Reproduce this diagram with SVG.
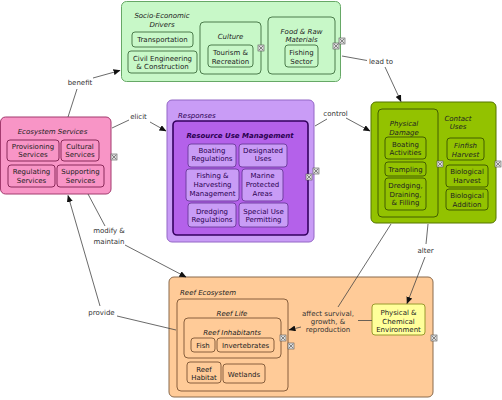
<svg xmlns="http://www.w3.org/2000/svg" xmlns:xlink="http://www.w3.org/1999/xlink" width="502" height="400" viewBox="0 0 502 400">
<style>
text{font-family:"DejaVu Sans",Verdana,sans-serif;font-size:7px;text-anchor:middle;fill:#222}
.it{font-style:italic}
.st{text-anchor:start}
.lk{fill:#333}
.ln{fill:none;stroke:#444;stroke-width:0.8}
.se{fill:#C8F8C8;stroke:#66A866;stroke-width:1}
.sei{fill:#C8F8C8;stroke:#3E6E3E;stroke-width:0.9}
.es{fill:#F895C6;stroke:#A33A6E;stroke-width:1}
.esi{fill:#F895C6;stroke:#7E1E4E;stroke-width:0.9}
.rs{fill:#C99CF6;stroke:#9366C6;stroke-width:1}
.rum{fill:#B461EA;stroke:#33005F;stroke-width:1.6}
.rsi{fill:#C99CF6;stroke:#6A3A9A;stroke-width:0.9}
.rt{fill:#2A0050}
.cu{fill:#93C200;stroke:#557500;stroke-width:1}
.cui{fill:#93C200;stroke:#3A5400;stroke-width:0.9}
.re{fill:#FFCB98;stroke:#8A6A4C;stroke-width:1}
.rei{fill:#FFCB98;stroke:#7A5433;stroke-width:0.9}
.pc{fill:#FFFF9A;stroke:#9A9A2E;stroke-width:1}
</style>
<defs>
<marker id="ah" markerWidth="7" markerHeight="6" refX="6.5" refY="3" orient="auto" markerUnits="userSpaceOnUse">
<path d="M0,0 L7,3 L0,6 Z" fill="#111"/>
</marker>
<g id="ic">
<rect x="-3" y="-3" width="6" height="6" fill="#DDD" stroke="#555" stroke-width="0.6"/>
<path d="M-2,-2 L2,2 M2,-2 L-2,2" stroke="#444" stroke-width="0.6"/>
</g>
</defs>

<g id="socio-economic-drivers">
<rect class="se" x="121.5" y="1.5" width="219" height="80" rx="5"/>
<text class="it" x="162" y="17.5">Socio-Economic</text>
<text class="it" x="162" y="26.5">Drivers</text>
<g id="transportation"><rect class="sei" x="132" y="32" width="61" height="15" rx="3"/><text x="162.5" y="42">Transportation</text></g>
<g id="civil-engineering"><rect class="sei" x="128" y="51" width="69" height="22" rx="3"/><text x="162.5" y="60.5">Civil Engineering</text><text x="162.5" y="69">&amp; Construction</text></g>
<g id="culture"><rect class="sei" x="200" y="22" width="61" height="52" rx="4"/><text class="it" x="230.5" y="38.5">Culture</text>
<g id="tourism"><rect class="sei" x="208" y="45" width="45" height="22" rx="3"/><text x="230.5" y="54.5">Tourism &amp;</text><text x="230.5" y="63.5">Recreation</text></g>
<use xlink:href="#ic" x="261" y="48"/></g>
<g id="food-raw-materials"><rect class="sei" x="268" y="17" width="67" height="57" rx="4"/><text class="it" x="301.5" y="33.5">Food &amp; Raw</text><text class="it" x="301.5" y="42">Materials</text>
<g id="fishing-sector"><rect class="sei" x="285" y="45" width="33" height="22" rx="3"/><text x="301.5" y="54.5">Fishing</text><text x="301.5" y="63.5">Sector</text></g>
<use xlink:href="#ic" x="336" y="46"/></g>
<use xlink:href="#ic" x="342" y="41"/>
</g>

<g id="ecosystem-services">
<rect class="es" x="0.5" y="117" width="110.5" height="77" rx="5"/>
<text class="it" x="52.5" y="133.5">Ecosystem Services</text>
<g id="provisioning"><rect class="esi" x="7" y="140" width="52" height="21" rx="3"/><text x="33" y="148.5">Provisioning</text><text x="33" y="157">Services</text></g>
<g id="cultural"><rect class="esi" x="61" y="140" width="38" height="21" rx="3"/><text x="80" y="148.5">Cultural</text><text x="80" y="157">Services</text></g>
<g id="regulating"><rect class="esi" x="8" y="165" width="47" height="22" rx="3"/><text x="31.5" y="174">Regulating</text><text x="31.5" y="182.5">Services</text></g>
<g id="supporting"><rect class="esi" x="57" y="165" width="47" height="22" rx="3"/><text x="80.5" y="174">Supporting</text><text x="80.5" y="182.5">Services</text></g>
<use xlink:href="#ic" x="114" y="157"/>
</g>

<g id="responses">
<rect class="rs" x="167" y="100" width="147" height="142" rx="5"/>
<text class="it st rt" x="178" y="117.5">Responses</text>
<g id="resource-use-management">
<rect class="rum" x="173" y="121" width="135" height="114" rx="4"/>
<text class="it rt" x="240" y="137.5" font-weight="bold">Resource Use Management</text>
<g id="boating-regulations"><rect class="rsi" x="188" y="144" width="48" height="23" rx="3"/><text class="rt" x="212" y="152.5">Boating</text><text class="rt" x="212" y="161">Regulations</text></g>
<g id="designated-uses"><rect class="rsi" x="239" y="144" width="48" height="23" rx="3"/><text class="rt" x="263" y="152.5">Designated</text><text class="rt" x="263" y="161">Uses</text></g>
<g id="fishing-harvesting"><rect class="rsi" x="186" y="169" width="53" height="32" rx="3"/><text class="rt" x="212.5" y="178">Fishing &amp;</text><text class="rt" x="212.5" y="187">Harvesting</text><text class="rt" x="212.5" y="196">Management</text></g>
<g id="marine-protected-areas"><rect class="rsi" x="242" y="169" width="41" height="32" rx="3"/><text class="rt" x="262.5" y="178">Marine</text><text class="rt" x="262.5" y="187">Protected</text><text class="rt" x="262.5" y="196">Areas</text></g>
<g id="dredging-regulations"><rect class="rsi" x="188" y="203" width="48" height="24" rx="3"/><text class="rt" x="212" y="213.5">Dredging</text><text class="rt" x="212" y="222">Regulations</text></g>
<g id="special-use"><rect class="rsi" x="239" y="203" width="49" height="24" rx="3"/><text class="rt" x="263.5" y="213.5">Special Use</text><text class="rt" x="263.5" y="222">Permitting</text></g>
<use xlink:href="#ic" x="309" y="177"/>
</g>
<use xlink:href="#ic" x="316" y="171"/>
</g>

<g id="contact-uses">
<rect class="cu" x="371" y="102" width="125" height="121" rx="5"/>
<text class="it" x="458" y="120.5">Contact</text>
<text class="it" x="458" y="129">Uses</text>
<g id="physical-damage"><rect class="cui" x="378" y="109" width="60" height="108" rx="4"/>
<text class="it" x="404" y="126">Physical</text><text class="it" x="404" y="134.5">Damage</text>
<g id="boating-activities"><rect class="cui" x="385" y="137" width="41" height="22" rx="3"/><text x="405.5" y="146.5">Boating</text><text x="405.5" y="155">Activities</text></g>
<g id="trampling"><rect class="cui" x="385" y="162" width="41" height="14" rx="3"/><text x="405.5" y="171.5">Trampling</text></g>
<g id="dredging"><rect class="cui" x="385" y="178" width="41" height="32" rx="3"/><text x="405.5" y="187.5">Dredging,</text><text x="405.5" y="196.5">Draining,</text><text x="405.5" y="205">&amp; Filling</text></g>
<use xlink:href="#ic" x="440" y="164"/></g>
<g id="finfish-harvest"><rect class="cui" x="447" y="138" width="37" height="22" rx="3"/><text class="it" x="465.5" y="147.5">Finfish</text><text class="it" x="465.5" y="156.5">Harvest</text></g>
<g id="biological-harvest"><rect class="cui" x="446" y="165" width="42" height="22" rx="3"/><text x="467" y="174">Biological</text><text x="467" y="182.5">Harvest</text></g>
<g id="biological-addition"><rect class="cui" x="446" y="189" width="42" height="21" rx="3"/><text x="467" y="197.5">Biological</text><text x="467" y="206.5">Addition</text></g>
<use xlink:href="#ic" x="498" y="164"/>
</g>

<g id="reef-ecosystem">
<rect class="re" x="169" y="277" width="264" height="120" rx="5"/>
<text class="it st" x="180" y="294.5">Reef Ecosystem</text>
<g id="reef-life"><rect class="rei" x="177" y="299" width="111" height="92" rx="4"/>
<text class="it" x="232" y="315.5">Reef Life</text>
<g id="reef-inhabitants"><rect class="rei" x="184" y="318" width="97" height="40" rx="4"/>
<text class="it" x="232" y="334.5">Reef Inhabitants</text>
<g id="fish"><rect class="rei" x="191" y="338" width="24" height="14" rx="3"/><text x="203" y="347.5">Fish</text></g>
<g id="invertebrates"><rect class="rei" x="217" y="338" width="57" height="14" rx="3"/><text x="245.5" y="347.5">Invertebrates</text></g>
<use xlink:href="#ic" x="283" y="338"/></g>
<g id="reef-habitat"><rect class="rei" x="187" y="362" width="34" height="21" rx="3"/><text x="204" y="371.5">Reef</text><text x="204" y="380">Habitat</text></g>
<g id="wetlands"><rect class="rei" x="223" y="364" width="42" height="19" rx="3"/><text x="244" y="376.5">Wetlands</text></g>
<use xlink:href="#ic" x="291" y="346"/></g>
</g>

<g id="physical-chemical-environment">
<rect class="pc" x="372" y="304" width="53" height="31" rx="3"/>
<text x="398.5" y="315">Physical &amp;</text>
<text x="398.5" y="323.5">Chemical</text>
<text x="398.5" y="332">Environment</text>
<use xlink:href="#ic" x="434" y="338"/>
</g>

<g id="connectors">
<polyline class="ln" points="68,117 77,89"/>
<polyline class="ln" points="93,78 120,70.5" marker-end="url(#ah)"/>
<text class="lk" x="80" y="84.5">benefit</text>

<polyline class="ln" points="112,128 129,120"/>
<polyline class="ln" points="150,122 166,131" marker-end="url(#ah)"/>
<text class="lk" x="138.5" y="119">elicit</text>

<polyline class="ln" points="315,126 327,119"/>
<polyline class="ln" points="346,118 370,131" marker-end="url(#ah)"/>
<text class="lk" x="335.5" y="116">control</text>

<polyline class="ln" points="342,56 367,60.5"/>
<polyline class="ln" points="385,67 401,101.5" marker-end="url(#ah)"/>
<text class="lk" x="381" y="64">lead to</text>

<polyline class="ln" points="428,224 426,244"/>
<polyline class="ln" points="425,257 407,303.5" marker-end="url(#ah)"/>
<text class="lk" x="425.5" y="252.5">alter</text>

<polyline class="ln" points="391,224 338,307"/>
<polyline class="ln" points="372,320.5 358,320.5"/>
<polyline class="ln" points="301,327 289,330" marker-end="url(#ah)"/>
<text class="lk" x="328" y="315.5">affect survival,</text>
<text class="lk" x="328" y="323.5">growth, &amp;</text>
<text class="lk" x="328" y="331.5">reproduction</text>

<polyline class="ln" points="88,194 105,226"/>
<polyline class="ln" points="125,245 186,277" marker-end="url(#ah)"/>
<text class="lk" x="109" y="233">modify &amp;</text>
<text class="lk" x="109" y="243.5">maintain</text>

<polyline class="ln" points="176,330 117,316"/>
<polyline class="ln" points="100,306 68,195.5" marker-end="url(#ah)"/>
<text class="lk" x="101.5" y="314.5">provide</text>
</g>
</svg>
